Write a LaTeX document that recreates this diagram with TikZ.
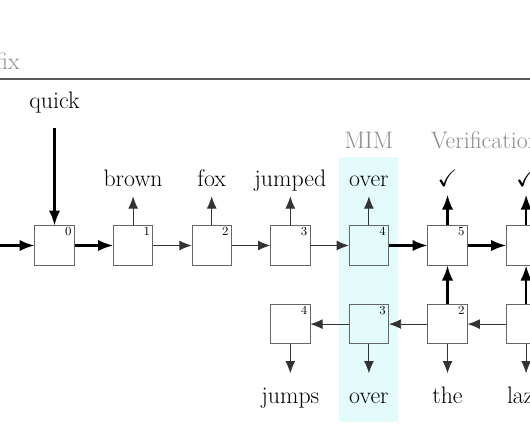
\documentclass[tikz,border=0pt]{standalone}
\usepackage{amssymb}
\usetikzlibrary{arrows.meta,positioning}
\definecolor{mimcyan}{RGB}{228,251,252}

\begin{document}
\begin{tikzpicture}[
> = {Latex[length=3.1mm,width=2.5mm]}, % arrow head style
node distance = 2cm, % distance between boxes
line width = 0.6pt
]

\tikzstyle{block}=[
draw = black!60,
minimum size = 1cm,
inner sep = 0pt
]
\tikzstyle{num}=[font=\small, anchor=north east, inner xsep=2pt, inner ysep=1.5pt]
\tikzstyle{word}=[font=\LARGE, inner sep=0pt, text height=12pt, text depth=0pt]
\tikzstyle{tag}=[font=\LARGE, text=black!45, inner sep=0pt]
\tikzstyle{weak}=[->, draw=black!80, line width=0.6pt]
\tikzstyle{strong}=[-{Latex[length=3.8mm,width=2.9mm]}, draw=black, line width=1.5pt]

\path[use as bounding box, clip] (-1.387,-5.0) rectangle (12.099,6.247);

% MIM column
\fill[mimcyan] (7.25,2.244) rectangle (8.75,-4.5);

% prefix line
\node[tag, anchor=base east] (prefix) at (-0.878,4.49) {Prefix};
\draw[black!65, line width=0.8pt] (-1.5,4.237) -- (12.2,4.237);

% top row
\node[block, label={[num]north east:$0$}] (b0) {};
\node[block, label={[num]north east:$1$}] (b1) [right of=b0] {};
\node[block, label={[num]north east:$2$}] (b2) [right of=b1] {};
\node[block, label={[num]north east:$3$}] (b3) [right of=b2] {};
\node[block, label={[num]north east:$4$}] (b4) [right of=b3] {};
\node[block, label={[num]north east:$5$}] (b5) [right of=b4] {};
\node[block] (b6) [right of=b5] {};

% bottom row
\node[block, label={[num]north east:$4$}] (d4) [below of=b3] {};
\node[block, label={[num]north east:$3$}] (d3) [below of=b4] {};
\node[block, label={[num]north east:$2$}] (d2) [below of=b5] {};
\node[block] (d1) [below of=b6] {};

% words
\node[word] (quick) [above=2.97cm of b0] {quick};
\node[word] (w1) [above=0.98cm of b1] {brown};
\node[word] (w2) [above=0.98cm of b2] {fox};
\node[word] (w3) [above=0.98cm of b3] {jumped};
\node[word] (w4) [above=0.98cm of b4] {over};
\node[word] (v5) [above=0.98cm of b5] {\checkmark};
\node[word] (v6) [above=0.98cm of b6] {\checkmark};

\node[word] (u4) [below=1.08cm of d4] {jumps};
\node[word] (u3) [below=1.08cm of d3] {over};
\node[word] (u2) [below=1.08cm of d2] {the};
\node[word] (u1) [below=1.08cm of d1] {lazy};

\node[tag, anchor=base] (mim) at (8,2.48) {MIM};
\node[tag, anchor=base west] (verify) at (9.57,2.48) {Verification};

\coordinate (start) at (-2,0);

% forward pass
\draw[strong] (start) -- (b0);
\draw[strong, shorten <=0.48cm] (quick) -- (b0);
\draw[strong] (b0) -- (b1);
\draw[weak] (b1) -- (b2);
\draw[weak] (b2) -- (b3);
\draw[weak] (b3) -- (b4);
\draw[strong] (b4) -- (b5);
\draw[strong] (b5) -- (b6);

\draw[weak, shorten >=0.24cm] (b1) -- (w1);
\draw[weak, shorten >=0.24cm] (b2) -- (w2);
\draw[weak, shorten >=0.24cm] (b3) -- (w3);
\draw[weak, shorten >=0.24cm] (b4) -- (w4);
\draw[strong, shorten >=0.2cm] (b5) -- (v5);
\draw[strong, shorten >=0.2cm] (b6) -- (v6);

% backward pass
\draw[weak] (d1) -- (d2);
\draw[weak] (d2) -- (d3);
\draw[weak] (d3) -- (d4);
\draw[strong] (d2) -- (b5);
\draw[strong] (d1) -- (b6);

\draw[weak, shorten >=0.34cm] (d4) -- (u4);
\draw[weak, shorten >=0.34cm] (d3) -- (u3);
\draw[weak, shorten >=0.34cm] (d2) -- (u2);
\draw[weak, shorten >=0.34cm] (d1) -- (u1);

\end{tikzpicture}
\end{document}
